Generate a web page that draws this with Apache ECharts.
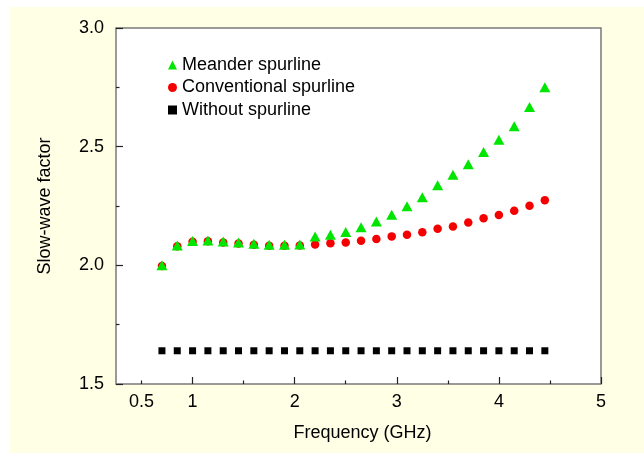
<!DOCTYPE html>
<html>
<head>
<meta charset="utf-8">
<title>Slow-wave factor</title>
<script src="https://cdn.jsdelivr.net/npm/echarts/dist/echarts.min.js"></script>
<style>
  html, body { margin: 0; padding: 0; background: #fff; }
  #main { width: 644px; height: 453px; }
</style>
</head>
<body>
<div id="main"></div>
<script>
// frequency points (GHz)
const freqs = [0.7, 0.85, 1.0, 1.15, 1.3, 1.45, 1.6, 1.75, 1.9, 2.05, 2.2, 2.35, 2.5,
  2.65, 2.8, 2.95, 3.1, 3.25, 3.4, 3.55, 3.7, 3.85, 4.0, 4.15, 4.3, 4.45];
const meander = [2.00, 2.084, 2.103, 2.105, 2.100, 2.096, 2.091, 2.087, 2.087, 2.088,
  2.121, 2.129, 2.140, 2.160, 2.185, 2.213, 2.249, 2.287, 2.337, 2.382, 2.426, 2.478,
  2.529, 2.586, 2.667, 2.750];
const conventional = [1.997, 2.080, 2.099, 2.101, 2.096, 2.092, 2.087, 2.083, 2.083, 2.084,
  2.088, 2.093, 2.096, 2.104, 2.111, 2.122, 2.129, 2.139, 2.154, 2.164, 2.180, 2.198,
  2.212, 2.230, 2.251, 2.274];
const without = [1.64, 1.64, 1.64, 1.64, 1.64, 1.64, 1.64, 1.64, 1.64, 1.64, 1.64, 1.64, 1.64,
  1.64, 1.64, 1.64, 1.64, 1.64, 1.64, 1.64, 1.64, 1.64, 1.64, 1.64, 1.64, 1.64];

const seriesNames = ['Meander spurline', 'Conventional spurline', 'Without spurline'];
const xLabels = [0.5, 1, 2, 3, 4, 5];
const xMajorTicks = [1, 2, 3, 4, 5];
const xMinorTicks = [0.5, 1.5, 2.5, 3.5, 4.5];

const font = "'Liberation Sans', Arial, sans-serif";
const zip = (ys) => freqs.map((f, i) => [f, ys[i]]);

const chart = echarts.init(document.getElementById('main'));
const option = {
  animation: false,
  textStyle: { fontFamily: font, color: '#000' },
  graphic: [{
    type: 'rect',
    z: -10,
    shape: { x: 10, y: 7, width: 634, height: 446 },
    style: { fill: '#ffffe5' }
  }],
  grid: {
    left: 116, top: 28, right: 43, bottom: 69,
    show: true,
    backgroundColor: '#fff',
    borderColor: '#7a7a7a',
    borderWidth: 1.5
  },
  legend: {
    orient: 'vertical',
    left: 163,
    top: 51,
    itemGap: 4.5,
    itemWidth: 9,
    itemHeight: 9,
    textStyle: { fontFamily: font, fontSize: 18, color: '#000', lineHeight: 18 },
    data: [
      { name: seriesNames[0], icon: 'triangle' },
      { name: seriesNames[1], icon: 'circle' },
      { name: seriesNames[2], icon: 'rect' }
    ]
  },
  xAxis: [{
    type: 'value',
    min: 0.25,
    max: 5,
    name: 'Frequency (GHz)',
    nameLocation: 'middle',
    nameGap: 40,
    nameTextStyle: { fontFamily: font, fontSize: 18, color: '#000', padding: [0, 0, 0, 8] },
    axisLine: { show: false },
    splitLine: { show: false },
    axisTick: {
      inside: true, length: 7, customValues: xMajorTicks,
      lineStyle: { color: '#222', width: 1.2 }
    },
    axisLabel: {
      customValues: xLabels, margin: 9,
      fontFamily: font, fontSize: 18, color: '#000'
    }
  }, {
    // short ticks at the half steps, drawn along the bottom edge
    type: 'value',
    min: 0.25,
    max: 5,
    position: 'top',
    offset: -356,
    axisLine: { show: false },
    splitLine: { show: false },
    axisLabel: { show: false },
    axisTick: {
      inside: false, length: 3.5, customValues: xMinorTicks,
      lineStyle: { color: '#222', width: 1.2 }
    }
  }],
  yAxis: {
    type: 'value',
    min: 1.5,
    max: 3.0,
    interval: 0.5,
    name: 'Slow-wave factor',
    nameLocation: 'middle',
    nameGap: 62,
    nameTextStyle: { fontFamily: font, fontSize: 18, color: '#000' },
    axisLine: { show: false },
    splitLine: { show: false },
    axisTick: { inside: true, length: 7, lineStyle: { color: '#222', width: 1.2 } },
    minorTick: { show: true, splitNumber: 2, length: 3.5, lineStyle: { color: '#222', width: 1.2 } },
    axisLabel: {
      margin: 12, fontFamily: font, fontSize: 18, color: '#000',
      formatter: (v) => v.toFixed(1)
    }
  },
  series: [
    {
      name: seriesNames[2],
      type: 'scatter',
      symbol: 'rect',
      symbolSize: 7,
      itemStyle: { color: '#000', opacity: 1 },
      data: zip(without)
    },
    {
      name: seriesNames[1],
      type: 'scatter',
      symbol: 'circle',
      symbolSize: 8.5,
      itemStyle: { color: '#f50000', opacity: 1 },
      data: zip(conventional)
    },
    {
      name: seriesNames[0],
      type: 'scatter',
      symbol: 'triangle',
      symbolSize: [11, 10],
      itemStyle: { color: '#00e600', opacity: 1 },
      data: zip(meander)
    }
  ]
};
chart.setOption(option);
</script>
</body>
</html>
